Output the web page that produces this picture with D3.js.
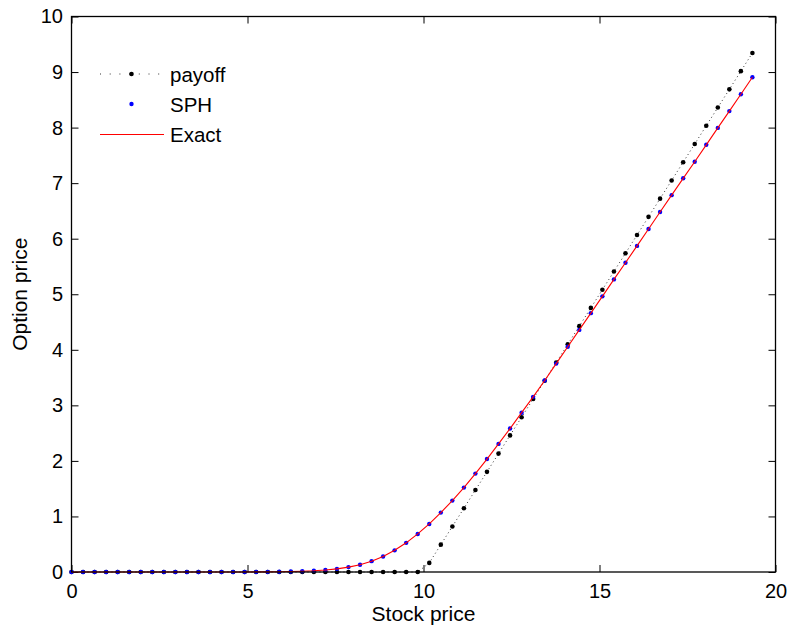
<!DOCTYPE html>
<html>
<head>
<meta charset="utf-8">
<script src="https://cdn.jsdelivr.net/npm/d3@7"></script>
<style>
  html, body { margin: 0; padding: 0; background: #fff; }
  svg { display: block; }
  text { font-family: "Liberation Sans", Arial, Helvetica, sans-serif; fill: #000; }
</style>
</head>
<body>
<svg id="chart" width="790" height="630"></svg>
<script>
// ---------------- data ----------------
const stockPrices = [
  0.000, 0.328, 0.656, 0.984, 1.311, 1.639, 1.967, 2.295, 2.623, 2.951,
  3.279, 3.607, 3.934, 4.262, 4.590, 4.918, 5.246, 5.574, 5.902, 6.230,
  6.557, 6.885, 7.213, 7.541, 7.869, 8.197, 8.525, 8.852, 9.180, 9.508,
  9.836, 10.164, 10.492, 10.820, 11.148, 11.475, 11.803, 12.131, 12.459, 12.787,
  13.115, 13.443, 13.770, 14.098, 14.426, 14.754, 15.082, 15.410, 15.738, 16.066,
  16.393, 16.721, 17.049, 17.377, 17.705, 18.033, 18.361, 18.689, 19.016, 19.344
];
const payoffValues = [
  0, 0, 0, 0, 0, 0, 0, 0, 0, 0,
  0, 0, 0, 0, 0, 0, 0, 0, 0, 0,
  0, 0, 0, 0, 0, 0, 0, 0, 0, 0,
  0, 0.164, 0.492, 0.820, 1.148, 1.475, 1.803, 2.131, 2.459, 2.787,
  3.115, 3.443, 3.770, 4.098, 4.426, 4.754, 5.082, 5.410, 5.738, 6.066,
  6.393, 6.721, 7.049, 7.377, 7.705, 8.033, 8.361, 8.689, 9.016, 9.344
];
const sphValues = [
  0, 0, 0, 0, 0, 0, 0, 0, 0, 0,
  0, 0, 0, 0, 0, 0.001, 0.002, 0.003, 0.005, 0.009,
  0.014, 0.022, 0.035, 0.057, 0.088, 0.130, 0.195, 0.280, 0.390, 0.525,
  0.685, 0.865, 1.069, 1.285, 1.519, 1.771, 2.033, 2.306, 2.582, 2.868,
  3.153, 3.447, 3.752, 4.056, 4.358, 4.660, 4.962, 5.267, 5.568, 5.870,
  6.175, 6.480, 6.784, 7.087, 7.386, 7.690, 7.995, 8.297, 8.600, 8.906
];
const exactValues = [
  0, 0, 0, 0, 0, 0, 0, 0, 0, 0,
  0, 0, 0, 0, 0, 0.001, 0.002, 0.003, 0.005, 0.009,
  0.014, 0.022, 0.035, 0.057, 0.088, 0.130, 0.195, 0.280, 0.390, 0.525,
  0.685, 0.865, 1.069, 1.285, 1.519, 1.771, 2.033, 2.306, 2.582, 2.868,
  3.153, 3.447, 3.752, 4.056, 4.358, 4.660, 4.962, 5.267, 5.568, 5.870,
  6.175, 6.480, 6.784, 7.087, 7.386, 7.690, 7.995, 8.297, 8.600, 8.906
];
const xTicks = [0, 5, 10, 15, 20];
const yTicks = [0, 1, 2, 3, 4, 5, 6, 7, 8, 9, 10];
const seriesNames = ["payoff", "SPH", "Exact"];
const xLabel = "Stock price";
const yLabel = "Option price";

// ---------------- layout ----------------
const plot = { left: 71.5, right: 775.5, top: 16.5, bottom: 572 };
const svg = d3.select("#chart");

const x = d3.scaleLinear().domain([0, 20]).range([plot.left, plot.right]);
const y = d3.scaleLinear().domain([0, 10]).range([plot.bottom, plot.top]);

const toPts = vals => stockPrices.map((s, i) => [s, vals[i]]);
const line = d3.line().x(d => x(d[0])).y(d => y(d[1]));

// axes box and ticks (MATLAB style: inward ticks on all sides)
const tickLen = 7;
const axG = svg.append("g");

axG.append("g")
  .attr("transform", `translate(0,${plot.bottom})`)
  .call(d3.axisBottom(x).tickValues(xTicks).tickSizeInner(-tickLen).tickSizeOuter(0).tickPadding(12))
  .call(g => g.select(".domain").remove())
  .call(g => g.selectAll("line").attr("stroke", "#000"))
  .call(g => g.selectAll("text").attr("font-size", "20px").attr("dy", "0.71em"));

axG.append("g")
  .attr("transform", `translate(0,${plot.top})`)
  .call(d3.axisTop(x).tickValues(xTicks).tickSizeInner(-tickLen).tickSizeOuter(0).tickFormat(""))
  .call(g => g.select(".domain").remove())
  .call(g => g.selectAll("line").attr("stroke", "#000"));

axG.append("g")
  .attr("transform", `translate(${plot.left},0)`)
  .call(d3.axisLeft(y).tickValues(yTicks).tickSizeInner(-tickLen).tickSizeOuter(0).tickPadding(8.5))
  .call(g => g.select(".domain").remove())
  .call(g => g.selectAll("line").attr("stroke", "#000"))
  .call(g => g.selectAll("text").attr("font-size", "20px"));

axG.append("g")
  .attr("transform", `translate(${plot.right},0)`)
  .call(d3.axisRight(y).tickValues(yTicks).tickSizeInner(-tickLen).tickSizeOuter(0).tickFormat(""))
  .call(g => g.select(".domain").remove())
  .call(g => g.selectAll("line").attr("stroke", "#000"));

// data: payoff (dotted black with dot markers)
svg.append("path")
  .datum(toPts(payoffValues))
  .attr("fill", "none")
  .attr("stroke", "#000")
  .attr("stroke-width", 0.8)
  .attr("stroke-dasharray", "1,3")
  .attr("d", line);
svg.append("g").selectAll("circle")
  .data(toPts(payoffValues))
  .join("circle")
  .attr("cx", d => x(d[0])).attr("cy", d => y(d[1]))
  .attr("r", 2.3).attr("fill", "#000");

// SPH blue dots
svg.append("g").selectAll("circle")
  .data(toPts(sphValues))
  .join("circle")
  .attr("cx", d => x(d[0])).attr("cy", d => y(d[1]))
  .attr("r", 2.2).attr("fill", "#0000ff");

// Exact red line
svg.append("path")
  .datum(toPts(exactValues))
  .attr("fill", "none")
  .attr("stroke", "#ff0000")
  .attr("stroke-width", 1.1)
  .attr("d", line);

// box frame
svg.append("rect")
  .attr("x", plot.left).attr("y", plot.top)
  .attr("width", plot.right - plot.left).attr("height", plot.bottom - plot.top)
  .attr("fill", "none").attr("stroke", "#000").attr("stroke-width", 1.3);

// axis labels
svg.append("text")
  .attr("x", (plot.left + plot.right) / 2).attr("y", 621)
  .attr("text-anchor", "middle").attr("font-size", "21px")
  .text(xLabel);
svg.append("text")
  .attr("transform", `translate(27,${(plot.top + plot.bottom) / 2}) rotate(-90)`)
  .attr("text-anchor", "middle").attr("font-size", "21px")
  .text(yLabel);

// legend (no box)
const legend = svg.append("g");
const legY = [74, 104, 134.5];
const lx0 = 100, lx1 = 163, lmid = 131.5;
// payoff entry
legend.append("line").attr("x1", lx0).attr("x2", lx1).attr("y1", legY[0]).attr("y2", legY[0])
  .attr("stroke", "#000").attr("stroke-width", 0.8).attr("stroke-dasharray", "1,8.7");
legend.append("circle").attr("cx", lmid).attr("cy", legY[0]).attr("r", 2.3).attr("fill", "#000");
// SPH entry
legend.append("circle").attr("cx", lmid).attr("cy", legY[1]).attr("r", 2.2).attr("fill", "#0000ff");
// Exact entry
legend.append("line").attr("x1", lx0).attr("x2", lx1 + 1).attr("y1", legY[2]).attr("y2", legY[2])
  .attr("stroke", "#ff0000").attr("stroke-width", 1.1);
legend.selectAll("text.leg")
  .data(seriesNames)
  .join("text")
  .attr("class", "leg")
  .attr("x", 170).attr("y", (d, i) => legY[i] + 7.5)
  .attr("font-size", "20.5px")
  .text(d => d);
</script>
</body>
</html>
